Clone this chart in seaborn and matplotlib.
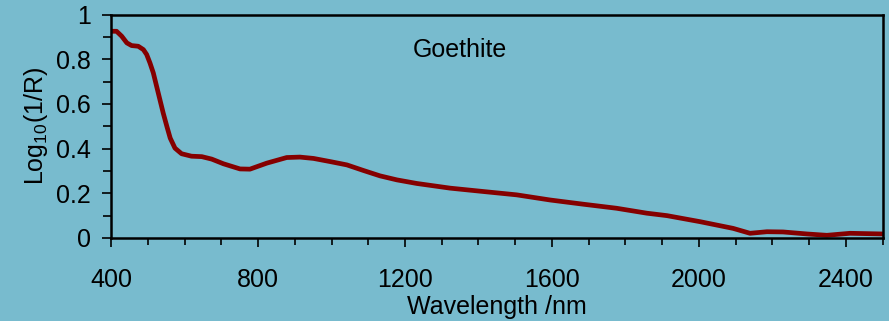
import numpy as np
import pandas as pd
import matplotlib
matplotlib.use("Agg")
import matplotlib.pyplot as plt
from matplotlib.ticker import MultipleLocator, FixedLocator
import seaborn as sns

# Goethite reflectance spectrum, expressed as log10(1/R)
wavelength = [400, 415, 429, 443, 456, 474, 488, 497, 506, 515, 524, 533, 542,
              552, 561, 574, 592, 619, 647, 674, 706, 751, 778, 824, 878, 914,
              951, 996, 1042, 1087, 1132, 1178, 1232, 1323, 1413, 1504, 1595,
              1686, 1776, 1858, 1913, 2003, 2093, 2139, 2185, 2229, 2294, 2348,
              2411, 2500]
absorbance = [0.925, 0.925, 0.903, 0.873, 0.861, 0.858, 0.843, 0.821, 0.783,
              0.739, 0.679, 0.619, 0.559, 0.499, 0.447, 0.402, 0.377, 0.366,
              0.364, 0.353, 0.332, 0.309, 0.308, 0.335, 0.360, 0.362, 0.356,
              0.342, 0.327, 0.302, 0.278, 0.260, 0.244, 0.223, 0.208, 0.193,
              0.170, 0.151, 0.133, 0.111, 0.100, 0.073, 0.043, 0.021, 0.028,
              0.027, 0.018, 0.012, 0.021, 0.018]

df = pd.DataFrame({"wavelength": wavelength, "absorbance": absorbance})

bg = "#78BBCE"
sns.set_theme(style="white")
plt.rcParams["font.family"] = ["Liberation Sans", "DejaVu Sans"]
plt.rcParams["mathtext.fontset"] = "custom"
plt.rcParams["mathtext.rm"] = "Liberation Sans"
plt.rcParams["mathtext.default"] = "regular"

fig = plt.figure(figsize=(8.89, 3.21), dpi=100, facecolor=bg)
ax = fig.add_axes([0.1249, 0.2586, 0.9929 - 0.1249, 0.9548 - 0.2586])
ax.set_facecolor(bg)

sns.lineplot(data=df, x="wavelength", y="absorbance", ax=ax,
             color="#850000", linewidth=3.4, estimator=None, sort=False)
ax.lines[0].set_solid_joinstyle("round")

ax.set_xlim(400, 2500)
ax.set_ylim(0, 1)
ax.xaxis.set_major_locator(MultipleLocator(400))
ax.xaxis.set_minor_locator(MultipleLocator(100))
ax.yaxis.set_major_locator(FixedLocator([0, 0.2, 0.4, 0.6, 0.8, 1.0]))
ax.yaxis.set_minor_locator(MultipleLocator(0.1))
ax.set_yticklabels(["0", "0.2", "0.4", "0.6", "0.8", "1"])

for s in ax.spines.values():
    s.set_visible(True)
    s.set_color("black")
    s.set_linewidth(1.8)

ax.tick_params(axis="both", which="both", direction="out", color="black",
               labelcolor="black", labelsize=18, width=1.2)
ax.tick_params(axis="x", which="major", length=6.5, pad=15)
ax.tick_params(axis="x", which="minor", length=5)
ax.tick_params(axis="y", which="major", length=6.5, pad=8)
ax.tick_params(axis="y", which="minor", length=5.5)
ax.tick_params(bottom=True, left=True, top=False, right=False, which="both")

ax.set_xlabel("Wavelength /nm", fontsize=18, color="black", labelpad=2)
ax.set_ylabel(r"Log$_{10}$(1/R)", fontsize=18, color="black", labelpad=4)

ax.text(1350, 0.843, "Goethite", fontsize=18, color="black", ha="center",
        va="center")

fig.savefig("out.png", dpi=100, facecolor=bg)
